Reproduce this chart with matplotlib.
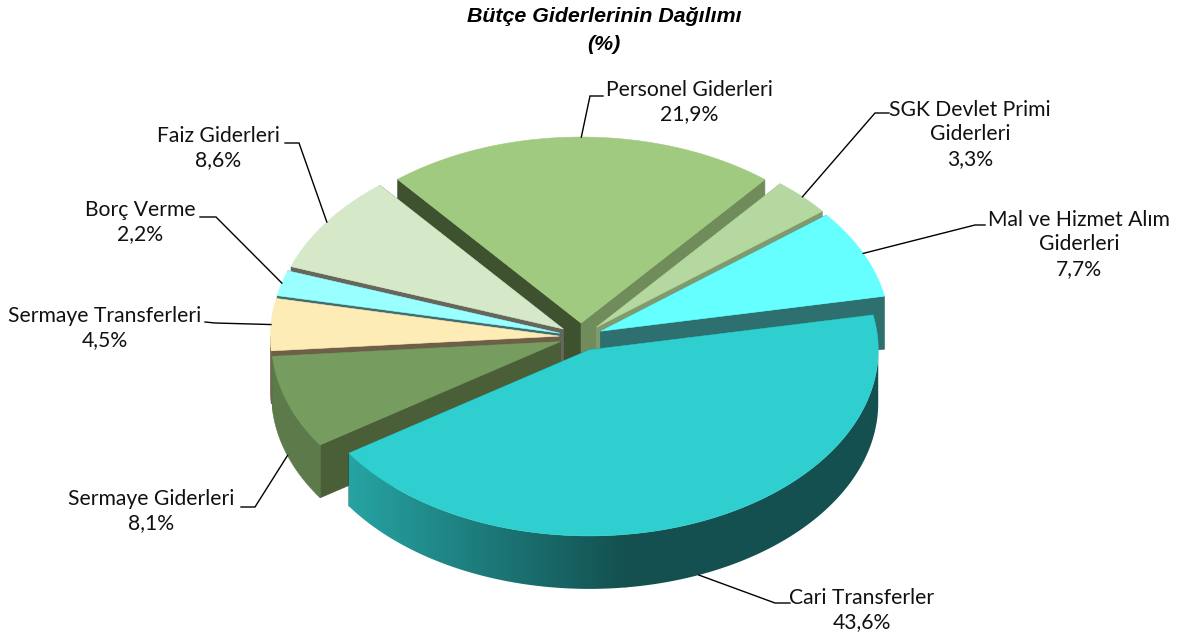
#!/usr/bin/env python3

import matplotlib
matplotlib.use("Agg")
import matplotlib.pyplot as plt
import numpy as np
from matplotlib.colors import LinearSegmentedColormap
from matplotlib.patches import Polygon

labels = ["Personel Giderleri", "SGK Devlet Primi\nGiderleri", "Mal ve Hizmet Alım\nGiderleri",
          "Cari Transferler", "Sermaye Giderleri", "Sermaye Transferleri", "Borç Verme", "Faiz Giderleri"]
values = [21.9, 3.3, 7.7, 43.6, 8.1, 4.5, 2.2, 8.6]

# colours per slice: top, outer wall, cut face at start angle, cut face at end angle
top_colors = ["#a0ca80", "#b4d8a0", "#66ffff", "#30cfcf", "#769c60", "#feecb6", "#99ffff", "#d5e9c9"]
wall_colors = ["#708c5a", "#7f9a6c", "#2e7070", "#145050", "#5c7a4a", "#6e6048", "#3d6f72", "#6b6b5a"]
start_cut = ["#3f5230", "#7f9a6c", "#2e7070", "#145050", "#4a5e38", "#6e6048", "#3d6f72", "#66665a"]
end_cut = ["#708c5a", "#7f9a6c", "#2e7070", "#145050", "#4a5e38", "#6e6048", "#3d6f72", "#66665a"]

# layout, in pixels of the 1182x639 picture
CX, CY = 581, 337
RX, RY = 289, 186
DEPTH = 53
EXPLODE = 0.075
START_ANGLE = -39.4

# label centre x, y of first line, elbow and end of the leader line
label_x = [689, 970, 1079, 862, 151, 105, 140, 218]
label_y = [90, 110, 220, 598, 499, 316, 210, 136]
elbow = [(590, 96), (875, 113), (975, 225), (775, 603), (255, 507), (215, 323), (216, 217), (299, 143)]
leader_end = [(603, 96), (889, 113), (985, 225), (790, 603), (241, 507), (205, 322), (200, 217), (285, 143)]

LINE_H = 24.5
FONT = "Lato"

fig = plt.figure(figsize=(11.82, 6.39), dpi=100)
ax = fig.add_axes([0, 0, 1, 1])


def rim(ox, oy, deg):
    a = np.radians(deg)
    return ox + RX * np.sin(a), oy - RY * np.cos(a)


def add_poly(xs, ys, color, z):
    p = Polygon(np.column_stack([xs, ys]), closed=True, facecolor=color,
                edgecolor=color, linewidth=0.4, zorder=z)
    ax.add_patch(p)
    return p


shares = np.array(values) / sum(values) * 360
starts = START_ANGLE + np.concatenate([[0], np.cumsum(shares)[:-1]])
mids = starts + shares / 2
origins = [(CX + EXPLODE * RX * np.sin(np.radians(m)), CY - EXPLODE * RY * np.cos(np.radians(m))) for m in mids]

wall_cmap = LinearSegmentedColormap.from_list("wall", ["#26a3a3", wall_colors[3]])

# back slices first
order = np.argsort(-np.cos(np.radians(mids)))
z = 2
for i in order:
    ox, oy = origins[i]
    a0, a1 = starts[i], starts[i] + shares[i]
    for deg, col in ((a0, start_cut[i]), (a1, end_cut[i])):
        rx, ry = rim(ox, oy, deg)
        add_poly([ox, rx, rx, ox], [oy, ry, ry + DEPTH, oy + DEPTH], col, z)
    z += 1
    steps = np.linspace(a0, a1, int(shares[i] * 2) + 2)
    # the wall is seen only on the front half of the ellipse
    front = steps[np.cos(np.radians(steps)) <= 0]
    if len(front) > 1:
        wx, wy = rim(ox, oy, front)
        wall = add_poly(np.r_[wx, wx[::-1]], np.r_[wy, wy[::-1] + DEPTH], wall_colors[i], z)
        if i == 3:
            wall.set_edgecolor("none")
            wall.set_facecolor("none")
            img = ax.imshow(np.linspace(0, 1, 256).reshape(1, -1), cmap=wall_cmap, aspect="auto",
                            extent=(wx.min(), 625, 639, 0), zorder=z)
            ext = ax.imshow(np.ones((1, 2)), cmap=wall_cmap, vmin=0, vmax=1, aspect="auto",
                            extent=(625, wx.max() + 1, 639, 0), zorder=z)
            img.set_clip_path(wall)
            ext.set_clip_path(wall)
    z += 1
    tx, ty = rim(ox, oy, steps)
    add_poly(np.r_[ox, tx], np.r_[oy, ty], top_colors[i], z)
    z += 1

# leader lines and labels
for i, name in enumerate(labels):
    ox, oy = origins[i]
    sx, sy = rim(ox, oy, mids[i])
    if np.cos(np.radians(mids[i])) < -0.2:
        sy += DEPTH
    ax.plot([sx, elbow[i][0], leader_end[i][0]], [sy, elbow[i][1], leader_end[i][1]],
            color="black", lw=1.0, zorder=50, solid_joinstyle="miter")
    lines = name.split("\n") + [f"{values[i]:.1f}".replace(".", ",") + "%"]
    for k, line in enumerate(lines):
        ax.text(label_x[i], label_y[i] + k * LINE_H, line, ha="center", va="center",
                fontsize=15.2, family=FONT, color="#111111", zorder=60)

ax.text(604, 17, "Bütçe Giderlerinin Dağılımı", ha="center", va="center", fontsize=15.4,
        family="Liberation Sans", weight="bold", style="italic", color="black")
ax.text(604, 45, "(%)", ha="center", va="center", fontsize=15.4,
        family="Liberation Sans", weight="bold", style="italic", color="black")

ax.set_xlim(0, 1182)
ax.set_ylim(639, 0)
ax.axis("off")

fig.savefig("out.png", dpi=100)
